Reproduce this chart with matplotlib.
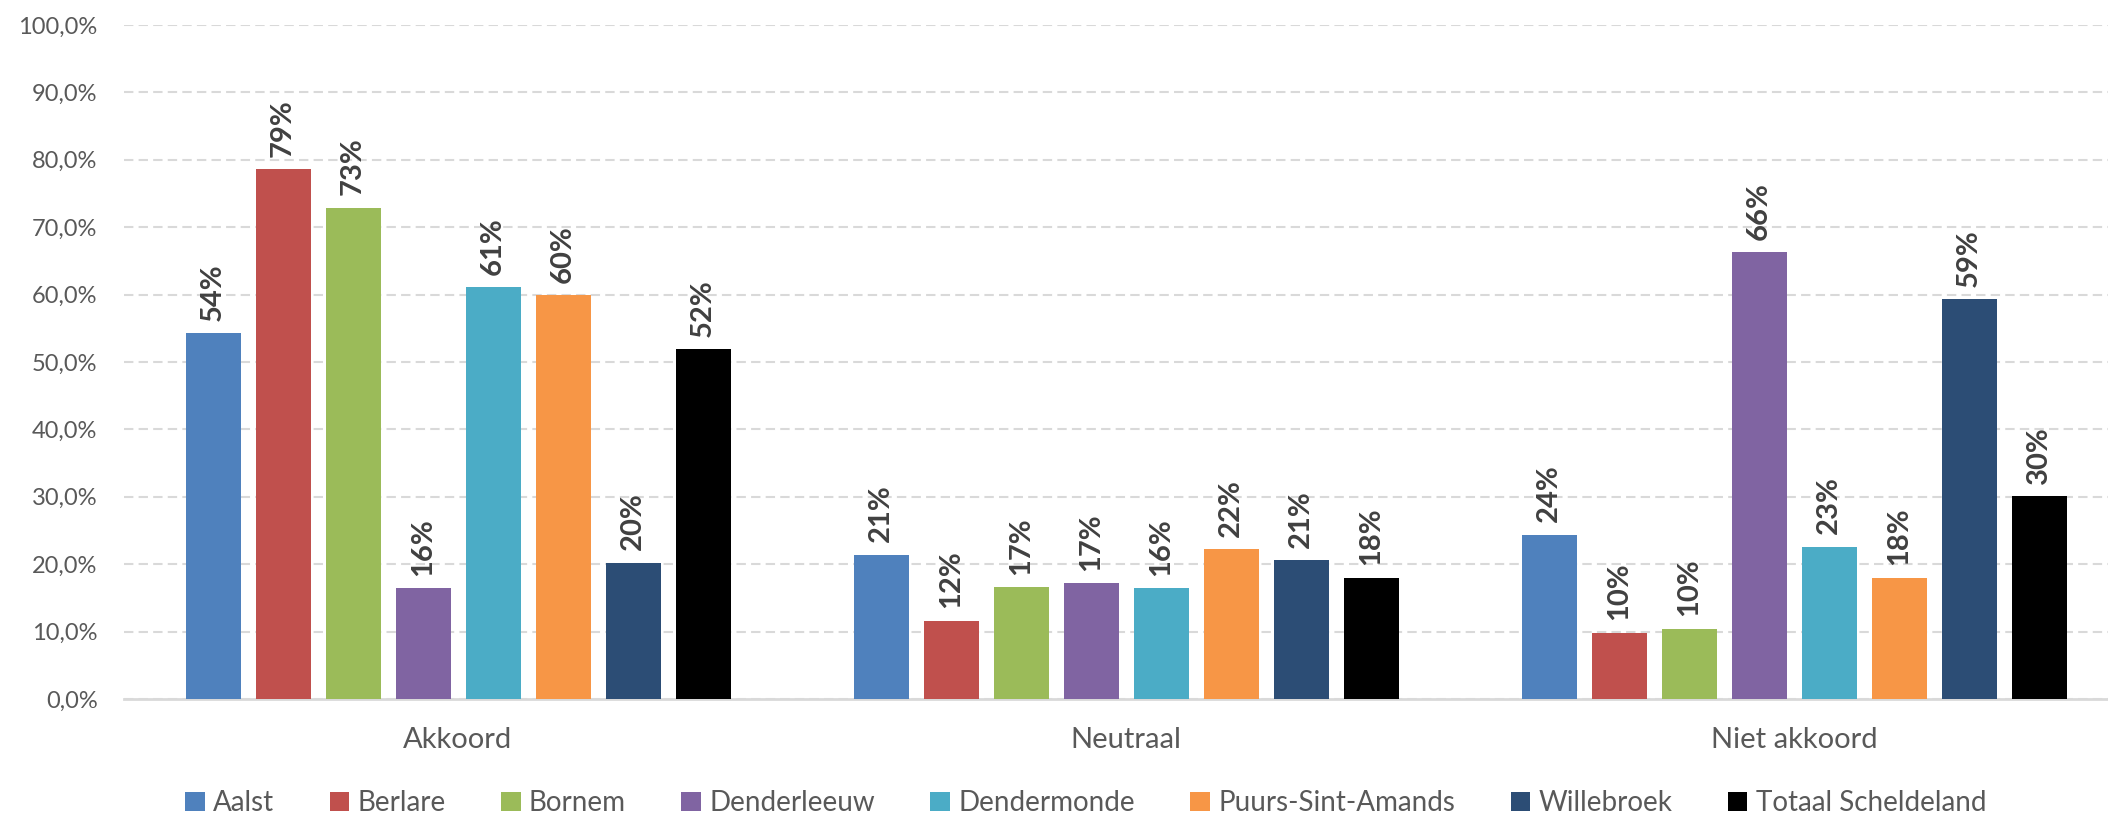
import numpy as np
import matplotlib
matplotlib.use("Agg")
import matplotlib.pyplot as plt

plt.rcParams['font.family'] = ['Lato', 'DejaVu Sans']

categories = ["Akkoord", "Neutraal", "Niet akkoord"]
series = ["Aalst", "Berlare", "Bornem", "Denderleeuw", "Dendermonde",
          "Puurs-Sint-Amands", "Willebroek", "Totaal Scheldeland"]
aalst = [54.3, 21.4, 24.4]
berlare = [78.6, 11.6, 9.8]
bornem = [72.9, 16.6, 10.4]
denderleeuw = [16.4, 17.2, 66.3]
dendermonde = [61.1, 16.4, 22.6]
puurs = [59.9, 22.2, 18.0]
willebroek = [20.2, 20.6, 59.3]
totaal = [51.9, 18.0, 30.1]
values = [aalst, berlare, bornem, denderleeuw, dendermonde, puurs, willebroek, totaal]
colors = ["#4F81BD", "#C0504D", "#9BBB59", "#8064A2", "#4BACC6",
          "#F79646", "#2C4D75", "#000000"]
yticks = [0, 10, 20, 30, 40, 50, 60, 70, 80, 90, 100]

W, H = 2108, 817
fig = plt.figure(figsize=(W / 100, H / 100), dpi=100)
ax = fig.add_axes([124 / W, 1 - 699 / H, 1 - 124 / W, (699 - 25) / H])

x = np.arange(len(categories))
slot = 70 / 668
bw = 55 / 668
n = len(series)
for i, (name, vals, c) in enumerate(zip(series, values, colors)):
    pos = x + (i - (n - 1) / 2) * slot
    ax.bar(pos, vals, width=bw, color=c, label=name, zorder=3)
    for p, v in zip(pos, vals):
        ax.annotate(f"{v:.0f}%", xy=(p, v), xytext=(0, 9), textcoords="offset points",
                    rotation=90, ha="center", va="bottom", fontsize=21,
                    fontweight="bold", color="#404040", zorder=4)

ax.set_xlim(-0.5, -0.5 + (W - 124) / 668)
ax.set_ylim(0, 100)
ax.set_yticks(yticks)
ax.set_yticklabels([f"{t:.1f}%".replace(".", ",") for t in yticks])
ax.set_xticks(x)
ax.set_xticklabels(categories)
ax.tick_params(axis="y", length=0, pad=19, labelsize=17, labelcolor="#595959")
ax.tick_params(axis="x", length=0, pad=20, labelsize=21, labelcolor="#595959")

for s in ["top", "right", "left"]:
    ax.spines[s].set_visible(False)
ax.spines["bottom"].set_color("#D9D9D9")
ax.spines["bottom"].set_linewidth(2)
ax.yaxis.grid(True, color="#D9D9D9", linewidth=1.5, linestyle=(0, (4.5, 2.5)), zorder=0)
ax.set_axisbelow(True)

fig.legend(loc="center", bbox_to_anchor=(0.515, 1 - 803 / H), ncol=8, frameon=False,
           fontsize=20, handlelength=0.7, handleheight=0.7, handletextpad=0.3,
           columnspacing=2.0, labelcolor="#595959", borderaxespad=0, borderpad=0)

fig.savefig("out.png", dpi=100)
